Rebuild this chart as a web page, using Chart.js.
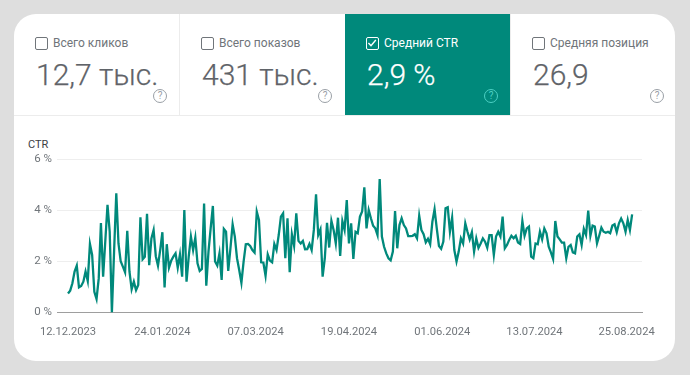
<!DOCTYPE html>
<html lang="ru"><head><meta charset="utf-8">
<script src="https://cdn.jsdelivr.net/npm/chart.js@4"></script>
<style>
html,body{margin:0;padding:0;width:690px;height:375px;overflow:hidden;background:#dedede;font-family:Roboto,sans-serif}
#card{position:absolute;left:14px;top:14px;width:661px;height:347px;background:#fff;border-radius:22px;overflow:hidden}
#tiles div.t{position:absolute;top:0;height:101px;box-sizing:border-box}
.lab{position:absolute;left:39px;top:22px;font-size:12px;line-height:14px;color:#70757a;white-space:nowrap}
.val{position:absolute;left:22px;top:42px;font-size:30px;font-weight:300;line-height:38px;color:#5f6368;white-space:nowrap;-webkit-text-stroke:.25px currentColor}
.cb{position:absolute;left:21px;top:23px;width:13px;height:13px;box-sizing:border-box;border:1.5px solid #70757a;border-radius:2px}
.q{position:absolute;top:75px;width:14px;height:14px;box-sizing:border-box;border:1.3px solid #9aa0a6;border-radius:50%;font-size:10px;line-height:11.5px;text-align:center;color:#9aa0a6}
.on .lab,.on .val{color:#fff}
.on .cb{border-color:#fff}
.on .q{border-color:#4dd0c4;color:#4dd0c4}
#hr{position:absolute;left:0;top:101px;width:661px;height:1px;background:#ececec}
#ctr{position:absolute;left:28px;top:138px;font-size:11px;line-height:13px;color:#3c4043}
canvas{position:absolute;left:0;top:0}
</style></head><body>
<div id="card">
 <div id="tiles">
  <div class="t" style="left:0;width:166px;border-right:1px solid #ececec"><span class="cb"></span><span class="lab">Всего кликов</span><span class="val">12,7 тыс.</span><span class="q" style="left:139px">?</span></div>
  <div class="t" style="left:166px;width:165px"><span class="cb"></span><span class="lab">Всего показов</span><span class="val">431 тыс.</span><span class="q" style="left:138px">?</span></div>
  <div class="t on" style="left:331px;width:165px;background:#00897b"><span class="cb"><svg width="10" height="10" viewBox="0 0 10 10" style="position:absolute;left:0;top:0"><path d="M1.4 5 L4 7.6 L8.8 2" fill="none" stroke="#fff" stroke-width="1.4"/></svg></span><span class="lab">Средний CTR</span><span class="val">2,9 %</span><span class="q" style="left:139px">?</span></div>
  <div class="t" style="left:496px;width:165px;border-left:1px solid #ececec"><span class="cb"></span><span class="lab">Средняя позиция</span><span class="val">26,9</span><span class="q" style="left:139px">?</span></div>
 </div>
 <div id="hr"></div>
</div>
<div id="ctr">CTR</div>
<canvas id="c" width="690" height="375"></canvas>
<script>
const ctrValues = [
0.74,0.85,1.14,1.6,1.83,0.98,1.03,1.2,1.6,1.23,2.68,2.25,0.8,0.52,1.33,3.5,1.4,2.8,4.21,3.16,
0,2.4,4.67,2.7,2.0,1.79,1.57,3.2,1.6,0.9,1.2,0.87,1.07,3.73,2.08,2.18,3.86,1.85,2.9,3.23,
2.2,1.83,2.44,3.14,0.97,2.67,1.75,2.02,2.18,2.31,1.75,2.27,1.4,4.01,1.2,2.18,2.97,2.44,2.93,1.92,
1.62,1.7,4.27,1.04,2.38,3.3,4.17,1.99,1.83,2.31,1.27,3.27,3.16,1.62,2.51,3.45,2.97,2.12,1.66,1.16,
1.99,2.67,2.68,2.6,2.44,2.34,3.95,3.62,1.96,1.95,1.43,2.27,2.03,1.96,2.68,2.44,3.03,3.75,3.88,2.12,
3.69,1.57,3.06,2.61,3.88,2.8,2.7,2.8,2.47,2.48,2.68,2.44,3.23,4.63,3.03,3.25,1.4,2.12,3.51,2.54,
3.59,3.23,2.7,3.71,2.21,3.58,3.23,4.4,2.7,3.49,2.09,3.16,3.1,3.75,3.95,4.9,3.29,4.01,3.69,3.4,
3.29,3.03,5.23,2.97,2.57,2.31,2.12,2.04,2.38,3.97,2.51,3.42,3.69,3.42,3.29,2.99,2.99,3.0,3.06,2.9,
3.79,3.23,3.06,2.74,2.88,2.67,3.55,4.04,3.29,2.6,2.49,2.77,4.08,4.12,3.16,3.71,2.44,1.99,2.38,2.9,
2.7,3.49,3.16,2.86,3.14,2.38,2.9,2.53,2.7,2.9,2.77,2.53,3.03,3.03,2.25,2.97,3.16,2.97,3.75,2.51,
2.64,2.84,3.0,2.9,3.0,2.74,2.68,3.58,3.0,3.29,3.36,2.18,2.12,2.7,2.67,3.16,2.86,3.29,3.1,2.57,
2.35,2.09,3.58,2.97,2.86,2.73,2.73,2.12,2.57,2.64,2.35,2.31,2.97,3.06,2.64,3.27,3.03,3.99,3.0,3.4,
3.36,2.7,3.0,3.32,3.16,3.12,3.16,3.1,3.4,3.45,3.14,3.49,3.68,3.49,3.16,3.62,3.23,3.84];
const dayIndex = ctrValues.map((_, i) => i);
const xTickLabels = ['12.12.2023','24.01.2024','07.03.2024','19.04.2024','01.06.2024','13.07.2024','25.08.2024'];
const xTickDays = [0,43,85.5,128,170.5,212.5,254.5];
const yTicks = [0,2,4,6];

new Chart(document.getElementById('c'), {
  type: 'line',
  data: { datasets: [{
    data: dayIndex.map((d, i) => ({x: d, y: ctrValues[i]})),
    borderColor: '#00897b', borderWidth: 2.3, pointRadius: 0, tension: 0,
    borderJoinStyle: 'miter', clip: false
  }]},
  options: {
    responsive: false, animation: false, devicePixelRatio: 1,
    layout: { padding: { left: 0, right: 48, top: 159.3, bottom: 0 } },
    plugins: { legend: { display: false }, tooltip: { enabled: false } },
    scales: {
      x: {
        type: 'linear', min: -5.01, max: 261.5,
        afterBuildTicks: a => { a.ticks = xTickDays.map(v => ({value: v})); },
        afterFit: a => { a.height = 62.7; },
        grid: { display: false, drawTicks: false },
        border: { display: true, color: '#9e9e9e', width: 1 },
        ticks: { autoSkip: false, maxRotation: 0, minRotation: 0, padding: 13,
          color: '#70757a', font: { family: 'Roboto', size: 11.2 },
          callback: (v, i) => xTickLabels[i] }
      },
      y: {
        min: 0, max: 6,
        afterBuildTicks: a => { a.ticks = yTicks.map(v => ({value: v})); },
        afterFit: a => { a.width = 57; },
        grid: { color: c => c.tick.value === 0 ? 'rgba(0,0,0,0)' : '#eeeeee', drawTicks: false, lineWidth: 1 },
        border: { display: false },
        ticks: { padding: 5, color: '#70757a', font: { family: 'Roboto', size: 11.5 },
          callback: v => v + ' %' }
      }
    }
  }
});
</script>
</body></html>
